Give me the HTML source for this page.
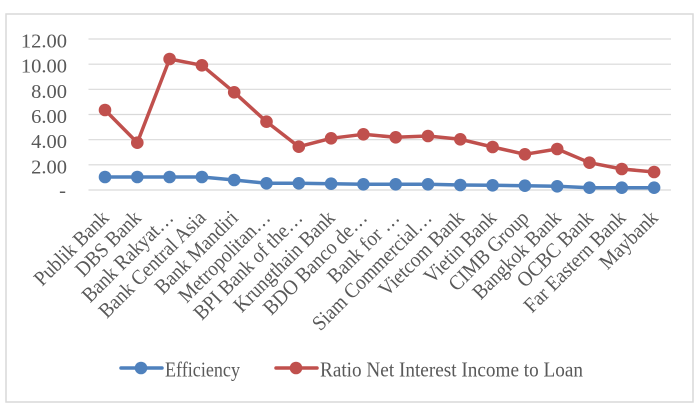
<!DOCTYPE html>
<html>
<head>
<meta charset="utf-8">
<style>
  html, body { margin: 0; padding: 0; background: #ffffff; }
  svg { display: block; }
  text { font-family: "Liberation Serif", "DejaVu Serif", serif; fill: #595959; }
</style>
</head>
<body>
<svg width="700" height="419" viewBox="0 0 700 419" xmlns="http://www.w3.org/2000/svg">
  <rect x="0" y="0" width="700" height="419" fill="#ffffff"/>
  <rect x="6" y="14" width="687" height="388" fill="#ffffff" stroke="#d9d9d9" stroke-width="1.5"/>

  <!-- gridlines -->
  <g stroke="#d9d9d9" stroke-width="1.2">
    <line x1="88.5" y1="39" x2="671" y2="39"/>
    <line x1="88.5" y1="64.2" x2="671" y2="64.2"/>
    <line x1="88.5" y1="89.3" x2="671" y2="89.3"/>
    <line x1="88.5" y1="114.5" x2="671" y2="114.5"/>
    <line x1="88.5" y1="139.7" x2="671" y2="139.7"/>
    <line x1="88.5" y1="164.8" x2="671" y2="164.8"/>
    <line x1="88.5" y1="190" x2="671" y2="190"/>
  </g>

  <!-- y labels -->
  <g font-size="20.5" text-anchor="end">
    <text x="67" y="47.5">12.00</text>
    <text x="67" y="72.7">10.00</text>
    <text x="67" y="97.8">8.00</text>
    <text x="67" y="123">6.00</text>
    <text x="67" y="148.2">4.00</text>
    <text x="67" y="173.3">2.00</text>
    <text x="66" y="197">-</text>
  </g>

  <!-- Ratio series -->
  <polyline fill="none" stroke="#c0504d" stroke-width="3.5" stroke-linejoin="round"
    points="105,110 137.3,142.7 169.6,59 201.9,65.3 234.2,92.3 266.5,121.7 298.8,146.7 331.1,138.3 363.4,134.3 395.7,137.3 428,136 460.3,139.3 492.6,147 524.9,154.3 557.2,149 589.5,162.7 621.8,169 654.1,172"/>
  <g fill="#c0504d">
    <circle cx="105" cy="110" r="6.3"/>
    <circle cx="137.3" cy="142.7" r="6.3"/>
    <circle cx="169.6" cy="59" r="6.3"/>
    <circle cx="201.9" cy="65.3" r="6.3"/>
    <circle cx="234.2" cy="92.3" r="6.3"/>
    <circle cx="266.5" cy="121.7" r="6.3"/>
    <circle cx="298.8" cy="146.7" r="6.3"/>
    <circle cx="331.1" cy="138.3" r="6.3"/>
    <circle cx="363.4" cy="134.3" r="6.3"/>
    <circle cx="395.7" cy="137.3" r="6.3"/>
    <circle cx="428" cy="136" r="6.3"/>
    <circle cx="460.3" cy="139.3" r="6.3"/>
    <circle cx="492.6" cy="147" r="6.3"/>
    <circle cx="524.9" cy="154.3" r="6.3"/>
    <circle cx="557.2" cy="149" r="6.3"/>
    <circle cx="589.5" cy="162.7" r="6.3"/>
    <circle cx="621.8" cy="169" r="6.3"/>
    <circle cx="654.1" cy="172" r="6.3"/>
  </g>

  <!-- Efficiency series -->
  <polyline fill="none" stroke="#4f81bd" stroke-width="3.5" stroke-linejoin="round"
    points="105,177 137.3,177 169.6,177 201.9,177 234.2,180 266.5,183.3 298.8,183.3 331.1,183.7 363.4,184.3 395.7,184.3 428,184.3 460.3,185 492.6,185.3 524.9,185.7 557.2,186.3 589.5,187.7 621.8,187.7 654.1,187.7"/>
  <g fill="#4f81bd">
    <circle cx="105" cy="177" r="6.3"/>
    <circle cx="137.3" cy="177" r="6.3"/>
    <circle cx="169.6" cy="177" r="6.3"/>
    <circle cx="201.9" cy="177" r="6.3"/>
    <circle cx="234.2" cy="180" r="6.3"/>
    <circle cx="266.5" cy="183.3" r="6.3"/>
    <circle cx="298.8" cy="183.3" r="6.3"/>
    <circle cx="331.1" cy="183.7" r="6.3"/>
    <circle cx="363.4" cy="184.3" r="6.3"/>
    <circle cx="395.7" cy="184.3" r="6.3"/>
    <circle cx="428" cy="184.3" r="6.3"/>
    <circle cx="460.3" cy="185" r="6.3"/>
    <circle cx="492.6" cy="185.3" r="6.3"/>
    <circle cx="524.9" cy="185.7" r="6.3"/>
    <circle cx="557.2" cy="186.3" r="6.3"/>
    <circle cx="589.5" cy="187.7" r="6.3"/>
    <circle cx="621.8" cy="187.7" r="6.3"/>
    <circle cx="654.1" cy="187.7" r="6.3"/>
  </g>

  <!-- x labels -->
  <g font-size="21" text-anchor="end">
    <text transform="translate(110,219) rotate(-45) scale(0.92,1)">Publik Bank</text>
    <text transform="translate(142.3,219) rotate(-45) scale(0.92,1)">DBS Bank</text>
    <text transform="translate(174.6,219) rotate(-45) scale(0.92,1)">Bank Rakyat…</text>
    <text transform="translate(206.9,219) rotate(-45) scale(0.92,1)">Bank Central Asia</text>
    <text transform="translate(239.2,219) rotate(-45) scale(0.92,1)">Bank Mandiri</text>
    <text transform="translate(271.5,219) rotate(-45) scale(0.92,1)">Metropolitan…</text>
    <text transform="translate(303.8,219) rotate(-45) scale(0.92,1)">BPI Bank of the…</text>
    <text transform="translate(336.1,219) rotate(-45) scale(0.92,1)">Krungthain Bank</text>
    <text transform="translate(368.4,219) rotate(-45) scale(0.92,1)">BDO Banco de…</text>
    <text transform="translate(400.7,219) rotate(-45) scale(0.92,1)">Bank for …</text>
    <text transform="translate(433,219) rotate(-45) scale(0.92,1)">Siam Commercial…</text>
    <text transform="translate(465.3,219) rotate(-45) scale(0.92,1)">Vietcom Bank</text>
    <text transform="translate(497.6,219) rotate(-45) scale(0.92,1)">Vietin Bank</text>
    <text transform="translate(529.9,219) rotate(-45) scale(0.92,1)">CIMB Group</text>
    <text transform="translate(562.2,219) rotate(-45) scale(0.92,1)">Bangkok Bank</text>
    <text transform="translate(594.5,219) rotate(-45) scale(0.92,1)">OCBC Bank</text>
    <text transform="translate(626.8,219) rotate(-45) scale(0.92,1)">Far Eastern Bank</text>
    <text transform="translate(659.1,219) rotate(-45) scale(0.92,1)">Maybank</text>
  </g>

  <!-- legend -->
  <line x1="121" y1="368" x2="162" y2="368" stroke="#4f81bd" stroke-width="3.5" stroke-linecap="round"/>
  <circle cx="141" cy="368" r="6.3" fill="#4f81bd"/>
  <text x="165" y="376.5" font-size="21" textLength="75" lengthAdjust="spacingAndGlyphs">Efficiency</text>

  <line x1="276" y1="368" x2="317" y2="368" stroke="#c0504d" stroke-width="3.5" stroke-linecap="round"/>
  <circle cx="296" cy="368" r="6.3" fill="#c0504d"/>
  <text x="320" y="376.5" font-size="21" textLength="263" lengthAdjust="spacingAndGlyphs">Ratio Net Interest Income to Loan</text>
</svg>
</body>
</html>
